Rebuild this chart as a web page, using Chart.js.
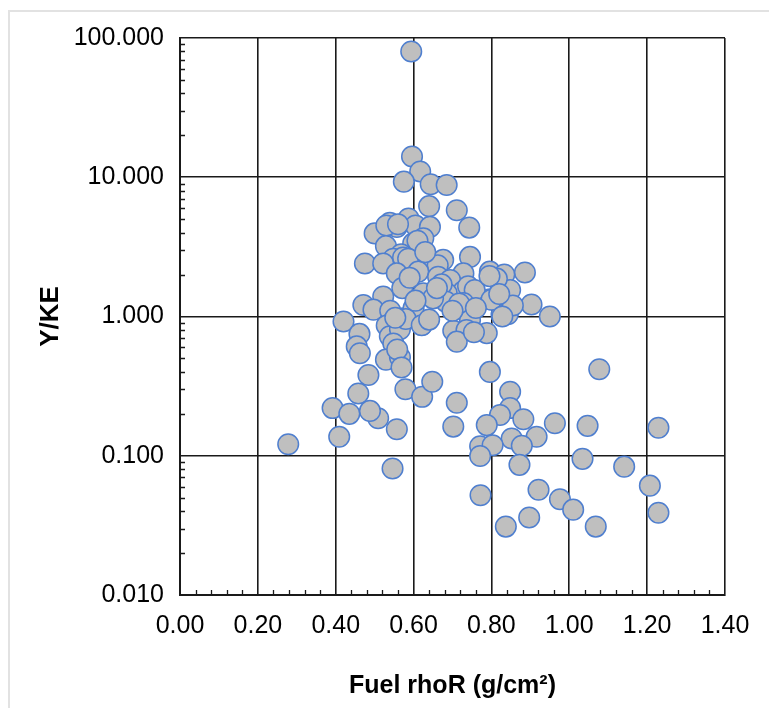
<!DOCTYPE html>
<html>
<head>
<meta charset="utf-8">
<script src="https://cdn.jsdelivr.net/npm/chart.js@4.4.1/dist/chart.umd.min.js"></script>
<style>
  html, body { margin: 0; padding: 0; background: #fff; }
  #wrap { position: relative; width: 769px; height: 708px; }
  #frame { position: absolute; left: 8px; top: 10px; right: -2px; bottom: -2px;
           border-left: 2px solid #e2e2e2; border-top: 2px solid #e2e2e2; }
  canvas { position: absolute; left: 0; top: 0; }
</style>
</head>
<body>
<div id="wrap">
  <div id="frame"></div>
  <canvas id="chart" width="769" height="708"></canvas>
</div>
<script>
// Dữ liệu: rhoR (g/cm2) và Y/KE
const rhoR = [
  0.594, 0.596, 0.617, 0.575, 0.644, 0.685, 0.640, 0.711, 0.743, 0.500,
  0.557, 0.539, 0.530, 0.587, 0.605, 0.642, 0.560, 0.625, 0.599, 0.610,
  0.529, 0.568, 0.548, 0.475, 0.522, 0.573, 0.586, 0.640, 0.676, 0.745,
  0.662, 0.557, 0.612, 0.663, 0.728, 0.694, 0.813, 0.796, 0.886, 0.833,
  0.848, 0.796, 0.728, 0.625, 0.685, 0.522, 0.571, 0.740, 0.757, 0.672,
  0.471, 0.497, 0.573, 0.621, 0.702, 0.788, 0.826, 0.903, 0.950, 0.842,
  0.728, 0.683, 0.717, 0.855, 0.600, 0.650, 0.540, 0.420, 0.461, 0.544,
  0.745, 0.531, 0.539, 0.565, 0.548, 0.736, 0.711, 0.755, 0.454, 0.462,
  0.529, 0.565, 0.558, 0.569, 0.484, 0.458, 0.579, 0.622, 0.648, 0.796,
  1.077, 0.392, 0.435, 0.509, 0.488, 0.557, 0.409, 0.278, 0.546, 0.702,
  0.711, 0.848, 0.848, 0.822, 0.882, 0.788, 0.963, 1.047, 1.229, 0.916,
  0.852, 0.771, 0.803, 0.878, 0.771, 0.872, 1.034, 1.141, 1.207, 1.229,
  0.772, 0.921, 0.976, 1.010, 0.897, 0.837, 1.068,
  0.814, 0.795, 0.800, 0.828, 0.820, 0.580, 0.553, 0.621, 0.605, 0.590,
  0.630, 0.660, 0.700, 0.760, 0.640
];
const yKE = [
  80, 14.1, 11.0, 9.3, 8.9, 8.8, 6.2, 5.8, 4.35, 3.95,
  4.4, 4.7, 4.5, 5.05, 4.5, 4.4, 4.6, 3.65, 3.35, 3.5,
  3.2, 2.8, 2.6, 2.4, 2.4, 2.65, 2.6, 2.55, 2.55, 2.68,
  2.33, 2.04, 2.1, 1.93, 2.04, 1.83, 1.88, 2.1, 2.07, 2.0,
  1.55, 1.33, 1.52, 1.47, 1.47, 1.39, 1.6, 1.65, 1.55, 1.7,
  1.21, 1.12, 0.97, 0.87, 0.79, 0.76, 1.03, 1.22, 1.0, 1.04,
  1.25, 1.28, 1.24, 1.2, 1.15, 1.35, 1.1, 0.92, 0.75, 0.9,
  0.94, 0.86, 0.72, 0.81, 0.64, 0.8, 0.66, 0.77, 0.61, 0.545,
  0.49, 0.51, 0.58, 0.43, 0.38, 0.28, 0.3, 0.265, 0.34, 0.4,
  0.418, 0.22, 0.2, 0.186, 0.21, 0.155, 0.137, 0.121, 0.081, 0.162,
  0.24, 0.288, 0.22, 0.196, 0.183, 0.166, 0.171, 0.164, 0.159, 0.137,
  0.133, 0.117, 0.119, 0.118, 0.0995, 0.086, 0.095, 0.0835, 0.061, 0.039,
  0.052, 0.057, 0.0487, 0.041, 0.036, 0.031, 0.031,
  1.87, 1.95, 1.32, 1.0, 1.45, 0.96, 0.98, 0.865, 1.3, 1.9,
  2.9, 1.6, 1.1, 1.15, 0.95
];
const xTicks = [0, 0.2, 0.4, 0.6, 0.8, 1.0, 1.2, 1.4];
const yTicks = [0.01, 0.1, 1, 10, 100];

const points = rhoR.map((x, i) => ({ x: x, y: yKE[i] }));
const lineColor = '#1a1a1a';
const fontFam = 'Liberation Sans, Arial, sans-serif';

// Vẽ vạch chia phụ hướng vào trong vùng đồ thị
const minorTicks = {
  id: 'minorTicks',
  afterDatasetsDraw(chart) {
    const { ctx, chartArea, scales } = chart;
    ctx.save();
    ctx.strokeStyle = lineColor;
    ctx.lineWidth = 1.3;
    ctx.beginPath();
    for (let d = 0; d < yTicks.length - 1; d++) {
      for (let k = 2; k <= 9; k++) {
        const py = Math.round(scales.y.getPixelForValue(yTicks[d] * k)) + 0.5;
        ctx.moveTo(chartArea.left, py);
        ctx.lineTo(chartArea.left + 5, py);
      }
    }
    for (let v = 0.04; v < 1.4; v += 0.04) {
      if (Math.abs(v / 0.2 - Math.round(v / 0.2)) < 1e-6) continue;
      const px = Math.round(scales.x.getPixelForValue(v)) + 0.5;
      ctx.moveTo(px, chartArea.bottom);
      ctx.lineTo(px, chartArea.bottom - 5);
    }
    ctx.stroke();
    ctx.restore();
  }
};

new Chart(document.getElementById('chart'), {
  type: 'scatter',
  data: {
    datasets: [{
      data: points,
      backgroundColor: '#bfbfbf',
      borderColor: '#4f7fcf',
      borderWidth: 1.5,
      pointRadius: 10.3,
      pointHoverRadius: 10.3
    }]
  },
  options: {
    responsive: false,
    animation: false,
    layout: { padding: { top: 38, right: 44, left: 0, bottom: 0 } },
    plugins: { legend: { display: false }, tooltip: { enabled: false } },
    scales: {
      x: {
        type: 'linear',
        min: 0, max: 1.4,
        afterBuildTicks: s => { s.ticks = xTicks.map(v => ({ value: v })); },
        afterFit: s => { s.height = 113; },
        ticks: {
          color: '#000',
          padding: 16,
          maxRotation: 0,
          font: { family: fontFam, size: 25 },
          callback: v => Number(v).toFixed(2)
        },
        grid: { color: lineColor, lineWidth: 1.6, drawTicks: false },
        border: { color: lineColor, width: 2 },
        title: {
          display: true,
          text: 'Fuel rhoR (g/cm²)',
          color: '#000',
          padding: { top: 0, bottom: 7 },
          font: { family: fontFam, size: 25, weight: 'bold' }
        }
      },
      y: {
        type: 'logarithmic',
        min: 0.01, max: 100,
        afterBuildTicks: s => { s.ticks = yTicks.map(v => ({ value: v })); },
        afterFit: s => { s.width = 180; },
        ticks: {
          color: '#000',
          padding: 16,
          font: { family: fontFam, size: 25 },
          callback: v => Number(v).toFixed(3)
        },
        grid: { color: lineColor, lineWidth: 1.6, drawTicks: false },
        border: { color: lineColor, width: 2 },
        title: {
          display: true,
          text: 'Y/KE',
          color: '#000',
          padding: { top: 35, bottom: 0 },
          font: { family: fontFam, size: 26, weight: 'bold' }
        }
      }
    }
  },
  plugins: [minorTicks]
});
</script>
</body>
</html>
